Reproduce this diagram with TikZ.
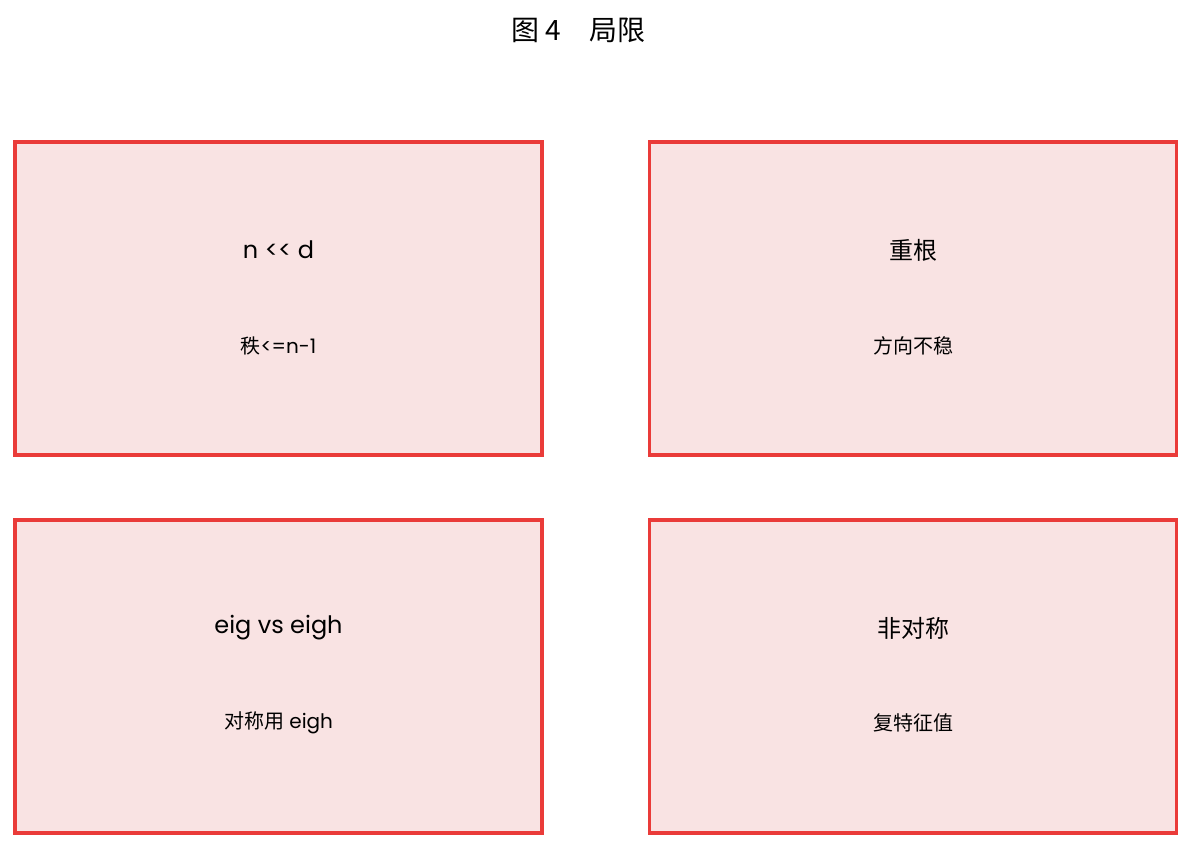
\documentclass[tikz,border=0pt]{standalone}
\usepackage{fontspec}
\setmainfont{Poppins}[Ligatures=NoCommon]
\newfontfamily\cjk{Noto Sans CJK SC}
\definecolor{limred}{RGB}{234,59,57}
\definecolor{limfill}{RGB}{249,227,227}
\begin{document}
\begin{tikzpicture}[x=1pt,y=-1pt]
    \tikzstyle{every node}+=[inner sep=0pt]
    \tikzstyle{limbox}=[draw=limred, fill=limfill, line width=3.2pt, minimum width=527pt, minimum height=313pt]
    \tikzstyle{bigtxt}=[font=\fontsize{24}{28}\selectfont]
    \tikzstyle{smalltxt}=[font=\fontsize{20}{24}\selectfont]
    \useasboundingbox (0,0) rectangle (1192,849);
    \draw (578.5,30) node (title) {\fontsize{28}{32}\selectfont\cjk 图 4\hspace{1em}局限};
    \draw (278.5,298.5) node [limbox] (rank) {};
    \draw (278.5,250) node [bigtxt] (rankhead) {n <{}< d};
    \draw (278.5,346) node [smalltxt] (ranknote) {{\cjk 秩}<{}=n-1};
    \draw (913,298.5) node [limbox] (repeat) {};
    \draw (913,250) node [bigtxt] (repeathead) {\cjk 重根};
    \draw (913,346) node [smalltxt] (repeatnote) {\cjk 方向不稳};
    \draw (278.5,676.5) node [limbox] (eig) {};
    \draw (278.5,628) node [bigtxt] (eighead) {eig vs eigh};
    \draw (278.5,723) node [smalltxt] (eignote) {{\cjk 对称用} eigh};
    \draw (913,676.5) node [limbox] (asym) {};
    \draw (913,628) node [bigtxt] (asymhead) {\cjk 非对称};
    \draw (913,723) node [smalltxt] (asymnote) {\cjk 复特征值};
\end{tikzpicture}
\end{document}
